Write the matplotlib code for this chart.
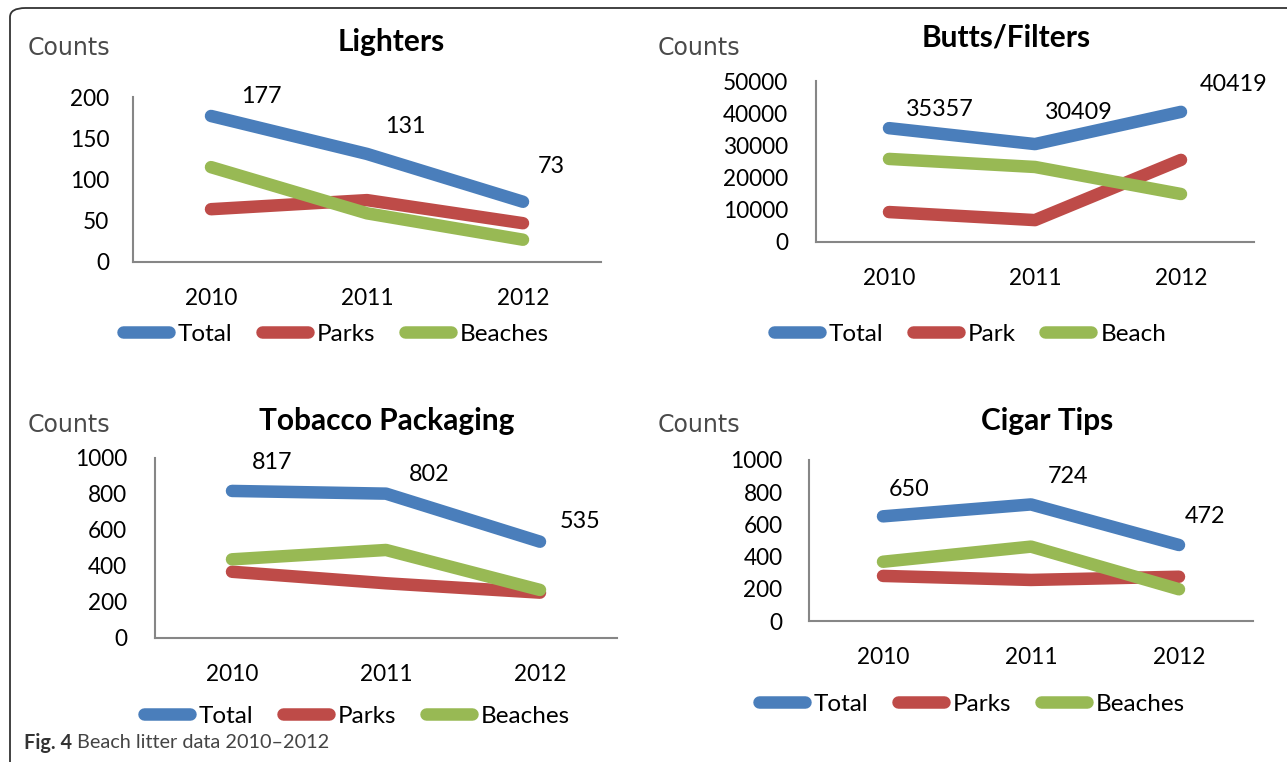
import matplotlib
matplotlib.use("Agg")
import matplotlib.pyplot as plt
from matplotlib.patches import FancyBboxPatch

W, H = 1287, 762

years = ["2010", "2011", "2012"]

# Lighters
lighters_total = [177, 131, 73]
lighters_parks = [64, 75, 47]
lighters_beaches = [115, 59, 27]
lighters_labels = ["Total", "Parks", "Beaches"]
lighters_yticks = [0, 50, 100, 150, 200]

# Butts/Filters
butts_total = [35357, 30409, 40419]
butts_park = [9300, 6800, 25500]
butts_beach = [25800, 23300, 14900]
butts_labels = ["Total", "Park", "Beach"]
butts_yticks = [0, 10000, 20000, 30000, 40000, 50000]

# Tobacco Packaging
tobacco_total = [817, 802, 535]
tobacco_parks = [368, 304, 252]
tobacco_beaches = [437, 489, 267]
tobacco_labels = ["Total", "Parks", "Beaches"]
tobacco_yticks = [0, 200, 400, 600, 800, 1000]

# Cigar Tips
cigar_total = [650, 724, 472]
cigar_parks = [280, 255, 275]
cigar_beaches = [368, 462, 197]
cigar_labels = ["Total", "Parks", "Beaches"]
cigar_yticks = [0, 200, 400, 600, 800, 1000]

titles = ["Lighters", "Butts/Filters", "Tobacco Packaging", "Cigar Tips"]

COLORS = ["#4A7EBB", "#BE4B48", "#98B954"]
FONT = ["Lato", "DejaVu Sans"]

fig = plt.figure(figsize=(W / 100, H / 100), dpi=100)
fig.patch.set_facecolor("white")


def fx(x):
    return x / W


def fy(y):
    return 1 - y / H


# outer rounded border (open on the right and bottom, beyond the image)
border = FancyBboxPatch((fx(10), fy(790)), fx(1420) - fx(10), fy(8) - fy(790),
                        boxstyle="round,pad=0,rounding_size=0.012",
                        transform=fig.transFigure, fill=False,
                        edgecolor="#333333", linewidth=1.3, zorder=0)
fig.patches.append(border)

panels = [
    dict(box=(133, 97, 601, 262), series=(lighters_total, lighters_parks, lighters_beaches),
         labels=lighters_labels, yticks=lighters_yticks, title=titles[0],
         title_xy=(391, 42), counts_xy=(28, 48), legend_xy=(336, 334), ypad=17,
         offsets=[(50, 19), (38, 27), (28, 35)]),
    dict(box=(816, 81, 1254, 242), series=(butts_total, butts_park, butts_beach),
         labels=butts_labels, yticks=butts_yticks, title=titles[1],
         title_xy=(1006, 38), counts_xy=(658, 48), legend_xy=(970, 334), ypad=20,
         offsets=[(51, 19), (44, 32), (53, 27)]),
    dict(box=(155, 458, 617, 638), series=(tobacco_total, tobacco_parks, tobacco_beaches),
         labels=tobacco_labels, yticks=tobacco_yticks, title=titles[2],
         title_xy=(387, 421), counts_xy=(28, 425), legend_xy=(357, 716), ypad=20,
         offsets=[(40, 28), (43, 19), (40, 20)]),
    dict(box=(809, 460, 1253, 621), series=(cigar_total, cigar_parks, cigar_beaches),
         labels=cigar_labels, yticks=cigar_yticks, title=titles[3],
         title_xy=(1047, 421), counts_xy=(658, 425), legend_xy=(972, 704), ypad=19,
         offsets=[(26, 27), (37, 28), (26, 29)]),
]

for p in panels:
    x0, y0, x1, y1 = p["box"]
    ax = fig.add_axes([fx(x0), fy(y1), fx(x1) - fx(x0), fy(y0) - fy(y1)])
    ax.set_facecolor("none")
    xs = list(range(len(years)))
    for vals, lab, col in zip(p["series"], p["labels"], COLORS):
        ax.plot(xs, vals, color=col, lw=9, solid_capstyle="round",
                solid_joinstyle="round", label=lab, zorder=3)
    ax.set_xlim(-0.5, len(years) - 0.5)
    ax.set_ylim(p["yticks"][0], p["yticks"][-1])
    ax.set_yticks(p["yticks"])
    ax.set_yticklabels([str(t) for t in p["yticks"]])
    ax.set_xticks(xs)
    ax.set_xticklabels(years)
    for s in ["top", "right"]:
        ax.spines[s].set_visible(False)
    for s in ["left", "bottom"]:
        ax.spines[s].set_color("#868686")
        ax.spines[s].set_linewidth(1.5)
    ax.tick_params(axis="both", length=0, labelsize=16.3, colors="black")
    ax.tick_params(axis="y", pad=p["ypad"])
    ax.tick_params(axis="x", pad=19)
    for t in ax.get_xticklabels() + ax.get_yticklabels():
        t.set_family(FONT)
    # data labels for totals
    for i, v in enumerate(p["series"][0]):
        dx, dy = p["offsets"][i]
        ax.annotate(str(v), xy=(i, v), xytext=(dx, dy), textcoords="offset pixels",
                    ha="center", va="center", fontsize=16.8, family=FONT, zorder=4)
    # legend
    ax.legend(loc="center", bbox_to_anchor=(fx(p["legend_xy"][0]), fy(p["legend_xy"][1])),
              bbox_transform=fig.transFigure, ncol=3, frameon=False,
              handlelength=1.9, handletextpad=0.37, columnspacing=1.2,
              prop=dict(family=FONT, size=17.5))
    # title
    fig.text(fx(p["title_xy"][0]), fy(p["title_xy"][1]), p["title"], ha="center",
             va="center", fontsize=21.5, fontweight="bold", family=FONT)
    fig.text(fx(p["counts_xy"][0]), fy(p["counts_xy"][1]), "Counts", ha="left",
             va="center", fontsize=17, color="#4a4a4a", family=["DejaVu Sans"])

# caption
cap1 = fig.text(fx(24), fy(743), "Fig. 4", ha="left", va="center", fontsize=14.3,
                fontweight="bold", color="#333333", family=FONT)
fig.canvas.draw()
bb = cap1.get_window_extent()
fig.text(bb.x1 / W + fx(5), fy(743), "Beach litter data 2010\u20132012", ha="left",
         va="center", fontsize=14.3, color="#444444", family=FONT)

fig.savefig("out.png", dpi=100, facecolor="white")
